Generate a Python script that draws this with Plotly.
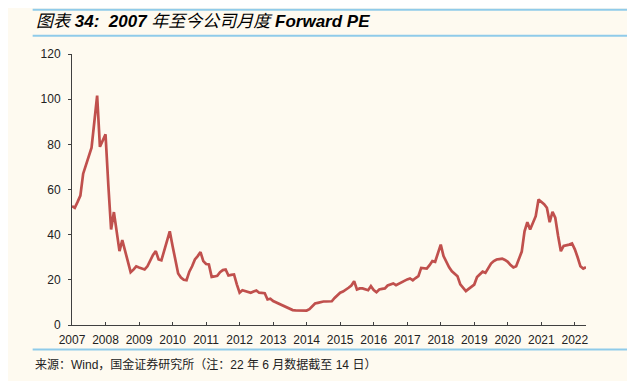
import plotly.graph_objects as go

years = [str(y) for y in range(2007, 2023)]

pe_2007 = [52.6, 51.9, 54.5, 57.3, 67, 71, 74.5, 78.5, 90, 101.6, 78.9, 81.5]
pe_2008 = [84.4, 62, 42.3, 50, 41, 32.7, 37.6, 32.6, 27.6, 23.4, 24.5, 26]
pe_2009 = [25.5, 25, 24.6, 26, 28.5, 31, 32.7, 29, 28.6, 33, 37.5, 41.5]
pe_2010 = [35, 28.5, 22.8, 21, 20, 19.8, 23.6, 26, 29, 30.5, 32.3, 28.3]
pe_2011 = [27, 26.8, 21.3, 21.5, 21.8, 23.4, 24.3, 24.6, 21.9, 22.2, 22.4, 18]
pe_2012 = [14.3, 15.4, 15, 14.5, 14.3, 14.8, 15.3, 14.3, 14.3, 14.1, 11.3, 11.6]
pe_2013 = [10.6, 10, 9.3, 8.8, 8.2, 7.5, 6.9, 6.6, 6.5, 6.4, 6.4, 6.4]
pe_2014 = [6.4, 7, 8.5, 9.5, 9.8, 10.2, 10.4, 10.4, 10.4, 10.5, 12, 13]
pe_2015 = [14.3, 14.8, 15.5, 16.5, 17.5, 19.4, 15.7, 16.2, 16.2, 15.8, 15.4, 17.2]
pe_2016 = [15.5, 14.5, 15.7, 16, 16.2, 17.5, 18, 18.4, 17.6, 18.3, 19, 19.5]
pe_2017 = [20.2, 20.6, 19.8, 20.8, 21.6, 25.3, 25.2, 25, 26.5, 28.3, 28, 32]
pe_2018 = [35.6, 30.5, 28, 25.5, 23.8, 22.8, 21.6, 18, 16.3, 15, 16, 17]
pe_2019 = [17.9, 21.2, 22.5, 23.6, 23.1, 25, 27.2, 28.3, 29, 29.2, 29.4, 28.8]
pe_2020 = [28, 26.5, 25.5, 26, 29.5, 32.5, 41.5, 45.5, 42.3, 45, 48.2, 55.6]
pe_2021 = [54.5, 53.5, 51.9, 45.5, 50.1, 47.5, 39.5, 32.7, 35, 35.2, 35.6, 36.1]
pe_2022 = [33.5, 30, 26, 25, 25.6]

pe = (pe_2007 + pe_2008 + pe_2009 + pe_2010 + pe_2011 + pe_2012 + pe_2013 + pe_2014
      + pe_2015 + pe_2016 + pe_2017 + pe_2018 + pe_2019 + pe_2020 + pe_2021 + pe_2022)
months = list(range(len(pe)))

title_text = "<i>图表 <b>34:</b>  <b>2007</b> 年至今公司月度 <b>Forward PE</b></i>"
source_text = "来源：Wind，国金证券研究所（注：22 年 6 月数据截至 14 日）"

bg = "#FEFAF0"
blue = "#8FCBEA"

# page body has an 8px margin; figure is sized to fit the window
OFF = 8
W, H = 635 - OFF, 381 - OFF
l, t = 72.3 - OFF, 54.3 - OFF
r = W - (585.7 - OFF)
b = H - (325.5 - OFF)
pw, ph = W - l - r, H - t - b

def px_x(p):
    return (p - OFF - l) / pw

def px_y(p):
    return (H - b - (p - OFF)) / ph

shapes = []
for yy in (10, 36, 350):
    shapes.append(dict(type="line", xref="paper", yref="paper",
                       x0=px_x(33), x1=px_x(628), y0=px_y(yy), y1=px_y(yy),
                       line=dict(color=blue, width=2)))

fig = go.Figure()
fig.add_trace(go.Scatter(x=months, y=pe, mode="lines",
                         line=dict(color="#C0504D", width=2.7),
                         hoverinfo="skip", showlegend=False))

fig.update_layout(
    width=W, height=H,
    margin=dict(l=l, r=r, t=t, b=b),
    paper_bgcolor=bg, plot_bgcolor=bg,
    font=dict(family="Liberation Sans, Arial, Noto Sans CJK SC", size=12, color="#222"),
    shapes=shapes,
    annotations=[
        dict(text=title_text, xref="paper", yref="paper", x=px_x(34), y=px_y(22),
             xanchor="left", yanchor="middle", showarrow=False,
             font=dict(size=17, color="#000", family="Liberation Sans, Noto Sans CJK SC")),
        dict(text=source_text, xref="paper", yref="paper", x=px_x(33), y=px_y(365),
             xanchor="left", yanchor="middle", showarrow=False,
             font=dict(size=12, color="#222", family="Liberation Sans, Noto Sans CJK SC")),
    ],
)
fig.update_xaxes(range=[0, len(pe) - 1], tickmode="array",
                 tickvals=[12 * i for i in range(len(years))], ticktext=years,
                 showline=True, linecolor="#404040", linewidth=1,
                 ticks="inside", ticklen=3, tickcolor="#404040",
                 showgrid=False, zeroline=False, ticklabelstandoff=4)
fig.update_yaxes(range=[0, 120], tickvals=[0, 20, 40, 60, 80, 100, 120],
                 showline=True, linecolor="#404040", linewidth=1,
                 ticks="outside", ticklen=3, tickcolor="#404040",
                 showgrid=False, zeroline=False, ticklabelstandoff=5)

fig.write_html("out.html")
